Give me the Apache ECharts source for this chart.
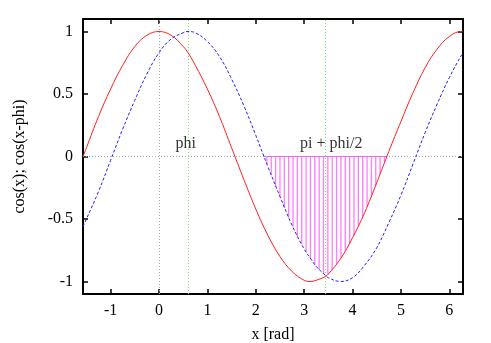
<!DOCTYPE html>
<html>
<head>
<meta charset="utf-8">
<script src="https://cdn.jsdelivr.net/npm/echarts@6/dist/echarts.min.js"></script>
<style>
  html, body { margin: 0; padding: 0; background: #fff; }
  #chart { width: 491px; height: 343px; }
</style>
</head>
<body>
<div id="chart"></div>
<script>
// sampled x positions (rad)
var xs = [-1.57, -1.5, -1.25, -1.0, -0.75, -0.5, -0.25, 0, 0.25, 0.5, 0.6, 0.75, 1.0, 1.25, 1.5,
  1.75, 2.0, 2.25, 2.5, 2.75, 3.0, 3.14, 3.25, 3.44, 3.5, 3.75, 4.0, 4.25, 4.5, 4.75, 5.0, 5.25, 5.5,
  5.75, 6.0, 6.25, 6.28];
// cos(x)
var cosVals = [0.00, 0.07, 0.32, 0.54, 0.73, 0.88, 0.97, 1.00, 0.97, 0.88, 0.83, 0.73, 0.54, 0.32, 0.07,
  -0.18, -0.42, -0.63, -0.80, -0.92, -0.99, -1.00, -0.99, -0.96, -0.94, -0.82, -0.65, -0.45, -0.21, 0.04, 0.28, 0.51, 0.71,
  0.86, 0.96, 1.00, 1.00];
// cos(x-phi)
var shiftVals = [-0.56, -0.50, -0.28, -0.03, 0.22, 0.45, 0.66, 0.83, 0.94, 0.99, 1.00, 0.99, 0.92, 0.80, 0.62,
  0.41, 0.17, -0.08, -0.32, -0.55, -0.74, -0.82, -0.88, -0.95, -0.97, -1.00, -0.97, -0.87, -0.73, -0.53, -0.31, -0.06, 0.19,
  0.42, 0.63, 0.81, 0.82];

// hatched area (impulses)
var hatchX = [2.23, 2.32, 2.41, 2.50, 2.59, 2.68, 2.77, 2.86, 2.95, 3.04, 3.13, 3.22, 3.31, 3.40,
  3.49, 3.58, 3.67, 3.76, 3.85, 3.94, 4.03, 4.12, 4.21, 4.30, 4.39, 4.48, 4.57, 4.66];
var hatchY = [-0.06, -0.15, -0.24, -0.32, -0.41, -0.49, -0.56, -0.64, -0.70, -0.76, -0.82, -0.87, -0.91, -0.94,
  -0.94, -0.91, -0.86, -0.81, -0.75, -0.70, -0.63, -0.56, -0.48, -0.40, -0.32, -0.23, -0.14, -0.05];
var hatchEdge = [2.17, 4.71];

var phi = 0.6;
var piPhi = 3.44;

var xTicks = [-1, 0, 1, 2, 3, 4, 5, 6];
var yTicks = [-1, -0.5, 0, 0.5, 1];

var labelPos = [[0.55, 0.1], [3.56, 0.1]];
var labelText = ['phi', 'pi + phi/2'];

var FONT = 'Liberation Serif';

function pairs(a, b) {
  var res = [];
  a.forEach(function (v, i) { res.push([v, b[i]]); });
  return res;
}

var chart = echarts.init(document.getElementById('chart'));

var axisLineStyle = { color: '#000', width: 2 };

function xAxis(pos, showLabel) {
  return {
    type: 'value', position: pos,
    min: -Math.PI / 2, max: 2 * Math.PI,
    name: showLabel ? 'x [rad]' : '',
    nameLocation: 'middle', nameGap: 33,
    nameTextStyle: { fontFamily: FONT, fontSize: 16, color: '#000' },
    axisLine: { show: true, onZero: false, lineStyle: axisLineStyle },
    axisTick: { show: true, inside: true, length: 5, customValues: xTicks, lineStyle: { color: '#000', width: 1.5 } },
    axisLabel: { show: showLabel, customValues: xTicks, fontFamily: FONT, fontSize: 16, color: '#000', margin: 9 },
    splitLine: { show: false }
  };
}
function yAxis(pos, showLabel) {
  return {
    type: 'value', position: pos,
    min: -1.1, max: 1.1,
    name: showLabel ? 'cos(x); cos(x-phi)' : '',
    nameLocation: 'middle', nameGap: 55,
    nameTextStyle: { fontFamily: FONT, fontSize: 16, color: '#000' },
    axisLine: { show: true, onZero: false, lineStyle: axisLineStyle },
    axisTick: { show: true, inside: true, length: 5, customValues: yTicks, lineStyle: { color: '#000', width: 1.5 } },
    axisLabel: { show: showLabel, customValues: yTicks, fontFamily: FONT, fontSize: 16, color: '#000', margin: 10 },
    splitLine: { show: false }
  };
}

var option = {
  backgroundColor: '#fff',
  animation: false,
  grid: { left: 83, right: 28, top: 19, bottom: 49, outerBoundsMode: 'none' },
  xAxis: [xAxis('bottom', true), xAxis('top', false)],
  yAxis: [yAxis('left', true), yAxis('right', false)],
  series: [
    {
      name: 'hatch', type: 'custom', z: 2,
      data: pairs(hatchX, hatchY),
      renderItem: function (params, api) {
        var p0 = api.coord([api.value(0), 0]);
        var p1 = api.coord([api.value(0), api.value(1)]);
        return {
          type: 'line',
          shape: { x1: p0[0], y1: p0[1], x2: p1[0], y2: p1[1] },
          style: { stroke: '#ff7cff', lineWidth: 1.3 }
        };
      }
    },
    {
      name: 'hatchTop', type: 'line', z: 3,
      data: [[hatchEdge[0], 0], [hatchEdge[1], 0]],
      symbol: 'none',
      lineStyle: { color: '#ff55ff', width: 1.2 }
    },
    {
      name: 'cos(x)', type: 'line', z: 5,
      data: pairs(xs, cosVals),
      smooth: 0.4, symbol: 'none',
      lineStyle: { color: '#ff2020', width: 1 },
      markLine: {
        silent: true, symbol: 'none', label: { show: false },
        lineStyle: { color: '#aaaaaa', type: [1, 2], width: 1 },
        data: [{ xAxis: 0 }, { yAxis: 0 }]
      }
    },
    {
      name: 'cos(x-phi)', type: 'line', z: 5,
      data: pairs(xs, shiftVals),
      smooth: 0.4, symbol: 'none',
      lineStyle: { color: '#2020ff', width: 1, type: [3, 2] },
      markLine: {
        silent: true, symbol: 'none', label: { show: false },
        lineStyle: { color: '#66ee66', type: [1, 2], width: 1 },
        data: [{ xAxis: phi }, { xAxis: piPhi }]
      }
    },
    {
      name: 'labels', type: 'scatter', z: 6,
      data: labelPos, symbolSize: 0,
      label: {
        show: true, position: 'inside',
        fontFamily: FONT, fontSize: 16, color: '#000',
        formatter: function (p) { return labelText[p.dataIndex]; }
      }
    }
  ]
};

chart.setOption(option);
</script>
</body>
</html>
